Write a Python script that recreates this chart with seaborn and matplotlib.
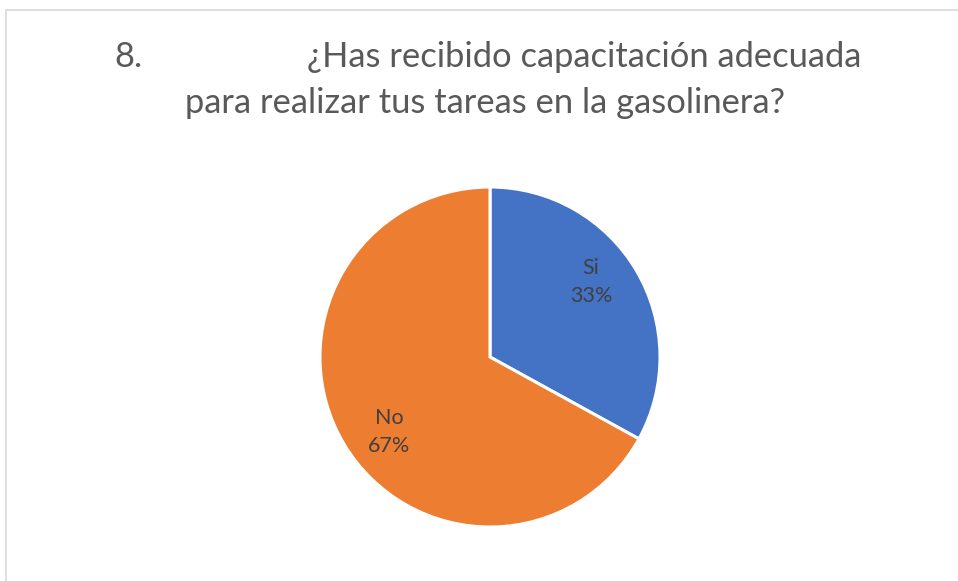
import matplotlib
matplotlib.use("Agg")
import matplotlib.pyplot as plt
import seaborn as sns
import numpy as np
from matplotlib.patches import Rectangle

categories = ["Si", "No"]
values = [33, 67]
colors = ["#4472C4", "#ED7D31"]
title_num = "8."
title_line1 = "¿Has recibido capacitación adecuada"
title_line2 = "para realizar tus tareas en la gasolinera?"

sns.set_theme(style="white")
plt.rcParams['font.family'] = ['Lato', 'DejaVu Sans']

W, H = 958, 581
fig = plt.figure(figsize=(W / 100, H / 100), dpi=100)
fig.patch.set_facecolor("white")

# chart border
fig.add_artist(Rectangle((6 / W, -0.1), 2, 1 - 10 / H + 0.1, transform=fig.transFigure,
                         fill=False, edgecolor="#D9D9D9", linewidth=1.2))

cx, cy, r = 490, 357, 170
ax = fig.add_axes([(cx - r) / W, (H - cy - r) / H, 2 * r / W, 2 * r / H])
wedges, _ = ax.pie(values, colors=colors, startangle=90, counterclock=False,
                   wedgeprops=dict(edgecolor="white", linewidth=2.2))
ax.set_xlim(-1, 1)
ax.set_ylim(-1, 1)
ax.set_aspect("equal")
ax.axis("off")

for w, lab, v in zip(wedges, categories, values):
    ang = np.deg2rad((w.theta1 + w.theta2) / 2 + 6)
    d = 0.74
    ax.text(d * np.cos(ang), d * np.sin(ang), f"{lab}\n{v}%", ha="center", va="center",
            fontsize=15.5, color="#404040", linespacing=1.5)

fs = 24.8
fig.text(128 / W, 1 - 57 / H, title_num, ha="center", va="center", fontsize=fs, color="#595959")
fig.text(584 / W, 1 - 57 / H, title_line1, ha="center", va="center", fontsize=fs, color="#595959")
fig.text(485 / W, 1 - 103 / H, title_line2, ha="center", va="center", fontsize=fs, color="#595959")

fig.savefig("out.png", dpi=100, facecolor="white")
